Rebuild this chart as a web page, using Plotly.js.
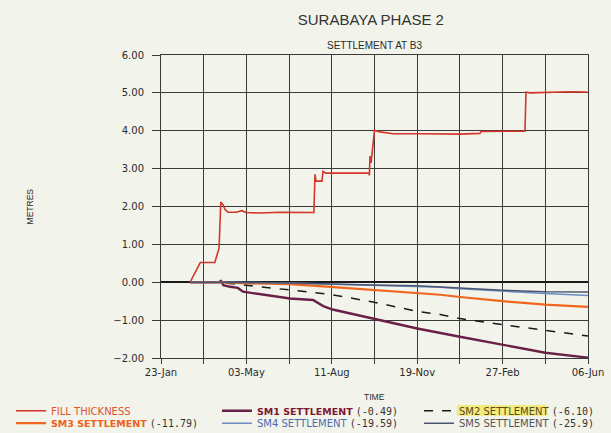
<!DOCTYPE html>
<html>
<head>
<meta charset="utf-8">
<script src="https://cdn.plot.ly/plotly-3.0.1.min.js"></script>
<style>html,body{margin:0;padding:0;background:#f2f4eb;}</style>
</head>
<body>
<div id="chart" style="width:611px;height:433px;"></div>
<script>
// x values are days after 23-Jan
const tickDays = [0, 100, 200, 300, 400, 500];
const tickLabels = ['23-Jan', '03-May', '11-Aug', '19-Nov', '27-Feb', '06-Jun'];

const fillDays = [34, 46, 63, 67, 68, 70, 72.6, 75, 78.5, 88, 94.5, 99.5, 116, 139, 179, 180.3, 181.5, 188.5, 189.7, 193, 243.6, 244, 244.7, 246, 250, 256.4, 271.7, 303, 350, 373.5, 374.7, 426.2, 427.4, 432, 449.6, 479, 499];
const fillVals = [0, 0.52, 0.52, 0.8, 0.9, 2.12, 2.05, 1.92, 1.85, 1.85, 1.89, 1.84, 1.83, 1.85, 1.84, 2.85, 2.67, 2.67, 2.93, 2.88, 2.88, 2.82, 3.33, 3.15, 4.01, 3.97, 3.92, 3.92, 3.91, 3.93, 3.98, 3.99, 5.02, 5.0, 5.01, 5.03, 5.02];

const sm1Days = [34, 69, 70, 73, 81, 90, 96, 119, 151, 178, 190, 201, 221, 248, 300, 350, 362, 400, 450, 500];
const sm1Vals = [0, 0, 0.05, -0.08, -0.12, -0.15, -0.25, -0.32, -0.43, -0.47, -0.63, -0.72, -0.82, -0.96, -1.22, -1.44, -1.49, -1.66, -1.86, -1.99];

const sm2Days = [34, 69, 80, 100, 108, 151, 198, 248, 300, 327, 350, 400, 450, 500];
const sm2Vals = [0, 0, -0.03, -0.08, -0.1, -0.19, -0.32, -0.52, -0.77, -0.85, -0.96, -1.12, -1.27, -1.42];

const sm3Days = [34, 69, 100, 151, 198, 248, 300, 327, 350, 400, 450, 500];
const sm3Vals = [0, 0, -0.03, -0.05, -0.12, -0.2, -0.28, -0.33, -0.39, -0.5, -0.59, -0.65];

const sm4Days = [34, 69, 120, 151, 198, 248, 300, 327, 350, 400, 450, 500];
const sm4Vals = [0, 0, -0.01, -0.02, -0.05, -0.08, -0.1, -0.13, -0.17, -0.24, -0.3, -0.35];

const sm5Days = [34, 69, 151, 198, 248, 300, 327, 350, 400, 450, 500];
const sm5Vals = [0, 0, -0.02, -0.05, -0.07, -0.09, -0.12, -0.16, -0.21, -0.25, -0.26];

const seriesLabels = ['FILL THICKNESS', 'SM1 SETTLEMENT', 'SM2 SETTLEMENT', 'SM3 SETTLEMENT', 'SM4 SETTLEMENT', 'SM5 SETTLEMENT'];
const seriesNotes = ['', '(-0.49)', '(-6.10)', '(-11.79)', '(-19.59)', '(-25.9)'];

function legendName(i, style) {
  let s = '<span style="' + style + '">' + seriesLabels[i] + '</span>';
  if (seriesNotes[i]) s += ' <span style="font-family:DejaVu Sans Mono, monospace;color:#333">' + seriesNotes[i] + '</span>';
  return s;
}

const traces = [
  {x: fillDays, y: fillVals, mode: 'lines', line: {color: '#d3352a', width: 1.6}, legend: 'legend',
   name: legendName(0, 'color:#e0532e')},
  {x: sm1Days, y: sm1Vals, mode: 'lines', line: {color: '#6a2046', width: 2.4}, legend: 'legend2',
   name: legendName(1, 'color:#7d1733;font-weight:bold;font-size:9.5px')},
  {x: sm2Days, y: sm2Vals, mode: 'lines', line: {color: '#1a1a1a', width: 1.5, dash: 'dash'}, legend: 'legend3',
   name: legendName(2, 'color:#5a4a20')},
  {x: sm3Days, y: sm3Vals, mode: 'lines', line: {color: '#f0661c', width: 2.2}, legend: 'legend4',
   name: legendName(3, 'color:#f0601a;font-weight:bold;font-size:9.5px')},
  {x: sm4Days, y: sm4Vals, mode: 'lines', line: {color: '#6c8cc4', width: 1.5}, legend: 'legend5',
   name: legendName(4, 'color:#4a6cb2')},
  {x: sm5Days, y: sm5Vals, mode: 'lines', line: {color: '#4b5570', width: 1.5}, legend: 'legend6',
   name: legendName(5, 'color:#555')}
];

function lg(x, y) {
  return {orientation: 'h', x: x, y: y, xanchor: 'left', yanchor: 'middle',
          bgcolor: 'rgba(0,0,0,0)', font: {size: 10, family: 'DejaVu Sans, sans-serif'}, itemwidth: 30};
}
const row1 = -0.174, row2 = -0.215;
const col1 = -0.3513, col2 = 0.1311, col3 = 0.6042;

const layout = {
  width: 611, height: 433,
  margin: {l: 161, r: 23, t: 55, b: 75, autoexpand: false},
  paper_bgcolor: '#f2f4eb', plot_bgcolor: '#f2f4eb',
  font: {family: 'DejaVu Sans, sans-serif', color: '#2a2a2a', size: 10},
  showlegend: true,
  title: {text: 'SURABAYA PHASE 2', x: 0.607, xref: 'container', y: 0.954, yref: 'container', yanchor: 'middle', xanchor: 'center',
          font: {family: 'Liberation Sans, sans-serif', size: 15, color: '#333'}},
  xaxis: {
    range: [0, 500], tickmode: 'array', tickvals: tickDays, ticktext: tickLabels,
    showgrid: true, gridcolor: '#3a3a3a', gridwidth: 1,
    ticks: 'outside', ticklen: 5, tickcolor: '#3a3a3a', tickwidth: 1,
    minor: {dtick: 50, tick0: 0, showgrid: true, gridcolor: '#3a3a3a', gridwidth: 1, ticks: 'outside', ticklen: 5, tickcolor: '#3a3a3a'},
    showline: true, mirror: true, linecolor: '#3a3a3a', linewidth: 1,
    zeroline: false, tickfont: {size: 10, color: '#2a2a2a'}
  },
  yaxis: {
    range: [-2, 6], dtick: 1, tick0: 0, tickformat: '.2f',
    showgrid: true, gridcolor: '#3a3a3a', gridwidth: 1,
    ticks: 'outside', ticklen: 8, tickcolor: '#3a3a3a', tickwidth: 1,
    ticklabelstandoff: 6,
    showline: true, mirror: true, linecolor: '#3a3a3a', linewidth: 1,
    zeroline: true, zerolinecolor: '#1a1a1a', zerolinewidth: 1.6,
    tickfont: {size: 10, color: '#2a2a2a'}
  },
  legend: lg(col1, row1),
  legend2: lg(col2, row1),
  legend3: lg(col3, row1),
  legend4: lg(col1, row2),
  legend5: lg(col2, row2),
  legend6: lg(col3, row2),
  shapes: [
    {type: 'rect', xref: 'paper', yref: 'paper', x0: 0.693, x1: 0.905, y0: -0.191, y1: -0.155,
     fillcolor: 'rgba(242,232,90,0.75)', line: {width: 0}, layer: 'above'}
  ],
  annotations: [
    {text: 'SETTLEMENT AT B3', xref: 'paper', yref: 'paper', x: 0.5, y: 1.033, showarrow: false,
     xanchor: 'center', yanchor: 'middle', font: {family: 'Liberation Sans, sans-serif', size: 10, color: '#2a2a2a'}},
    {text: 'METRES', xref: 'paper', yref: 'paper', x: -0.307, y: 0.5, textangle: -90, showarrow: false,
     xanchor: 'center', yanchor: 'middle', font: {family: 'Liberation Sans, sans-serif', size: 8.5, color: '#2a2a2a'}},
    {text: 'TIME', xref: 'paper', yref: 'paper', x: 0.5, y: -0.129, showarrow: false,
     xanchor: 'center', yanchor: 'middle', font: {family: 'Liberation Sans, sans-serif', size: 8.5, color: '#2a2a2a'}}
  ]
};

Plotly.newPlot('chart', traces, layout, {displayModeBar: false, staticPlot: true});
</script>
</body>
</html>
